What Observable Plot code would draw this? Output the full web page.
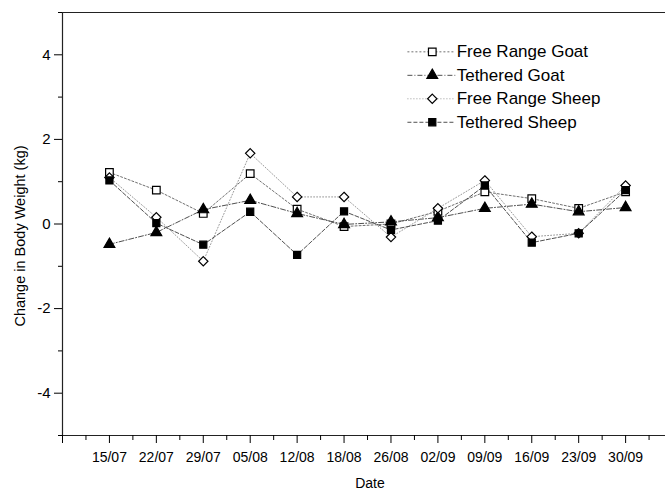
<!DOCTYPE html>
<html><head><meta charset="utf-8">
<script src="https://cdn.jsdelivr.net/npm/d3@7"></script>
<script src="https://cdn.jsdelivr.net/npm/@observablehq/plot@0.6"></script>
<style>body{margin:0;background:#fff;overflow:hidden}</style>
</head><body><div id="chart"></div>
<script>
const dates = ["15/07","22/07","29/07","05/08","12/08","18/08","26/08","02/09","09/09","16/09","23/09","30/09"];
const seriesNames = ["Free Range Goat","Tethered Goat","Free Range Sheep","Tethered Sheep"];
const freeRangeGoat  = [1.22, 0.80, 0.25, 1.19, 0.35, -0.06, 0.00, 0.30, 0.76, 0.60, 0.37, 0.76];
const tetheredGoat   = [-0.48, -0.20, 0.34, 0.56, 0.25, -0.01, 0.05, 0.15, 0.37, 0.47, 0.29, 0.39];
const freeRangeSheep = [1.10, 0.16, -0.88, 1.67, 0.64, 0.64, -0.31, 0.37, 1.03, -0.30, -0.22, 0.91];
const tetheredSheep  = [1.03, 0.02, -0.49, 0.29, -0.73, 0.30, -0.14, 0.08, 0.91, -0.44, -0.22, 0.80];
const yMajorTicks = [-4, -2, 0, 2, 4];
const yMinorTicks = [-5, -3, -1, 1, 3, 5];
const yLabel = "Change in Body Weight (kg)";
const xLabel = "Date";

const valuesBySeries = [freeRangeGoat, tetheredGoat, freeRangeSheep, tetheredSheep];
const styles = [
  {symbol: "square",   fill: "white", r: 4.3, line: "#707070", dash: "2,2"},
  {symbol: "triangle", fill: "black", r: 4.0, line: "#505050", dash: "5,2,1,2"},
  {symbol: "diamond2", fill: "white", r: 4.2, line: "#999999", dash: "1,2"},
  {symbol: "square",   fill: "black", r: 4.0, line: "#505050", dash: "4,2"}
];
const rows = seriesNames.flatMap((name, s) => valuesBySeries[s].map((v, i) => ({name, s, i, v})));
const font = "'Liberation Sans', Arial, sans-serif";

const marks = [
  Plot.ruleY([5], {stroke: "#222", strokeWidth: 1.2}),
  Plot.ruleY([-5], {stroke: "#222", strokeWidth: 1.2}),
  Plot.ruleX([-1], {stroke: "#222", strokeWidth: 1.2}),
  Plot.axisY(yMajorTicks, {tickSize: 8, tickPadding: 4, fontSize: 15, tickFormat: d => String(d), label: null}),
  Plot.axisY(yMinorTicks, {tickSize: 4, tickFormat: () => "", label: null}),
  Plot.axisX(d3.range(dates.length), {tickSize: 8, tickPadding: 9, fontSize: 14, tickFormat: i => dates[i], label: null, ariaLabel: "xmaj"}),
  Plot.axisX(d3.range(-0.5, dates.length, 1), {tickSize: 5, tickFormat: () => "", label: null}),
  Plot.axisX([-1], {tickSize: 8, tickFormat: () => "", label: null}),
  Plot.text([yLabel], {frameAnchor: "left", textAnchor: "middle", rotate: -90, dx: -42, dy: 12, fontSize: 14.5, fill: "black"}),
  Plot.text([xLabel], {frameAnchor: "bottom", textAnchor: "middle", dy: 52, dx: 6, fontSize: 14, fill: "black"})
];
styles.forEach((st, s) => {
  const d = rows.filter(r => r.s === s);
  marks.push(Plot.line(d, {x: "i", y: "v", stroke: st.line, strokeWidth: 1, strokeDasharray: st.dash}));
});
styles.forEach((st, s) => {
  const d = rows.filter(r => r.s === s);
  marks.push(Plot.dot(d, {x: "i", y: "v", symbol: st.symbol, r: st.r, fill: st.fill, stroke: "black", strokeWidth: 1.2}));
});
// legend (inside the plot, top right)
const legendRows = seriesNames.map((name, s) => ({name, s}));
const legY = d => 4.07 - d.s * 0.555;
styles.forEach((st, s) => {
  const d = legendRows.filter(r => r.s === s);
  marks.push(Plot.link(d, {x1: () => 6.35, x2: () => 7.37, y1: legY, y2: legY, stroke: st.line, strokeWidth: 1, strokeDasharray: st.dash}));
  marks.push(Plot.dot(d, {x: () => 6.88, y: legY, symbol: st.symbol, r: st.r, fill: st.fill, stroke: "black", strokeWidth: 1.2}));
});
marks.push(Plot.text(legendRows, {x: () => 7.40, y: legY, text: "name", textAnchor: "start", fontSize: 17, fill: "black"}));

const chart = Plot.plot({
  width: 665,
  height: 494,
  marginLeft: 62,
  marginRight: 0,
  marginTop: 12,
  marginBottom: 59,
  x: {type: "linear", domain: [-1, 11.85], axis: null},
  y: {domain: [-5, 5], axis: null},
  style: {fontFamily: font, background: "white", color: "black"},
  marks
});
d3.select(chart).selectAll("g[aria-label='xmaj'] text").attr("letter-spacing", "-0.6");
document.getElementById("chart").appendChild(chart);
</script>
</body></html>
